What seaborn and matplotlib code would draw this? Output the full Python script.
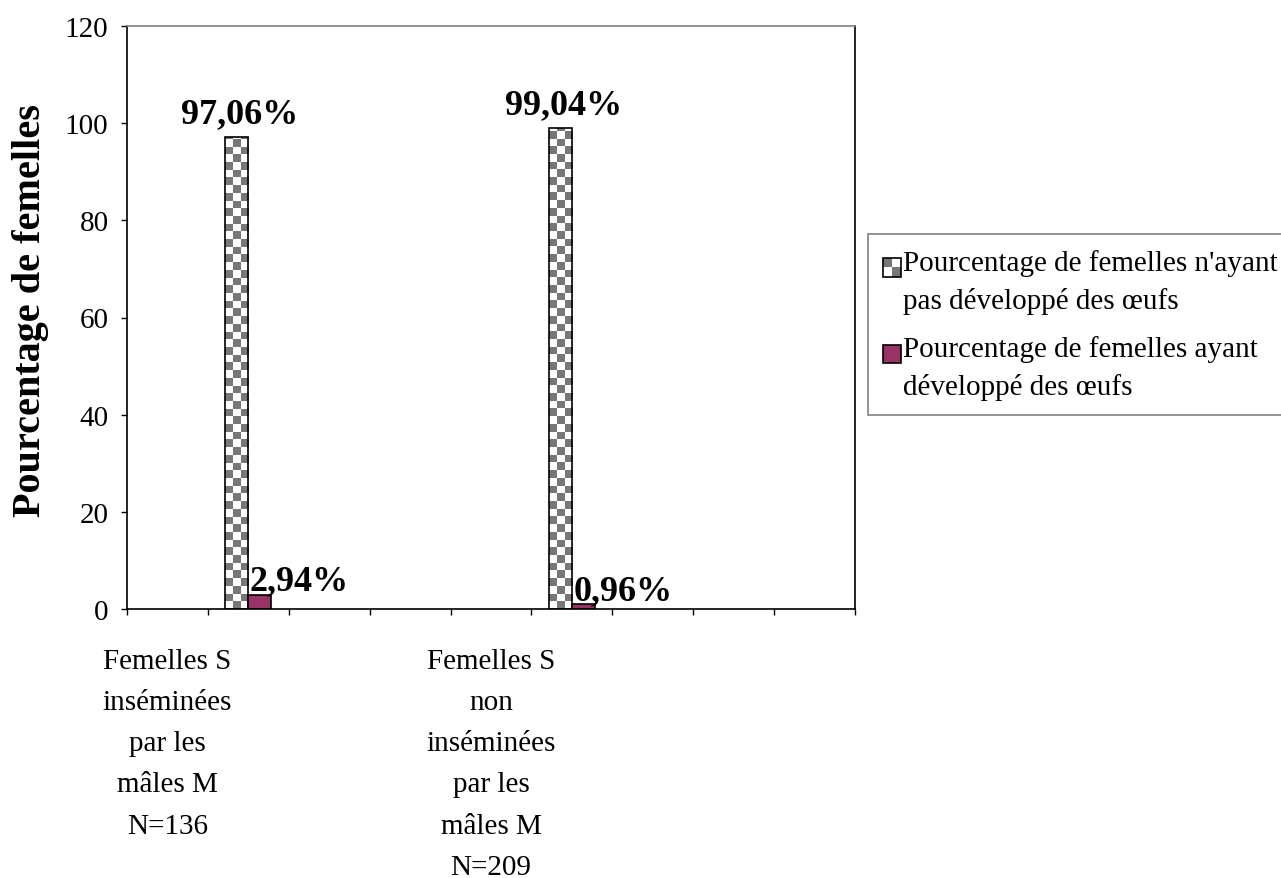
import numpy as np
import pandas as pd
import seaborn as sns
import matplotlib.pyplot as plt
from matplotlib.patches import Rectangle, Patch
from matplotlib.legend_handler import HandlerBase
from matplotlib.colors import ListedColormap

# -------------------------------
# Data
# -------------------------------
groups = ["Femelles S\ninséminées\npar les\nmâles M\nN=136",
          "Femelles S\nnon\ninséminées\npar les\nmâles M\nN=209"]
series = ["Pourcentage de femelles n'ayant\npas développé des œufs",
          "Pourcentage de femelles ayant\ndéveloppé des œufs"]
no_eggs = [97.06, 99.04]
eggs = [2.94, 0.96]
labels_no_eggs = ["97,06%", "99,04%"]
labels_eggs = ["2,94%", "0,96%"]
n_slots = 9            # category slots on the x axis (Excel layout)
bar_slots = [1, 5]     # slots where the bars sit
label_slots = [0, 4]   # slots where the category labels sit
yticks = [0, 20, 40, 60, 80, 100, 120]

slots = [str(i) for i in range(n_slots)]
df = pd.DataFrame({
    "slot": [str(s) for s in bar_slots] * 2,
    "series": [series[0]] * 2 + [series[1]] * 2,
    "value": no_eggs + eggs,
})

# -------------------------------
# Style
# -------------------------------
sns.set_style("white")
plt.rcParams["font.family"] = ["Liberation Serif", "DejaVu Serif"]
plt.rcParams.update({"text.color": "black", "axes.labelcolor": "black",
                     "xtick.color": "black", "ytick.color": "black"})

GRAY = "#777777"
PLUM = "#993366"

fig = plt.figure(figsize=(12.81, 8.79), dpi=100)
ax = fig.add_axes([127 / 1281, 269 / 879, 728 / 1281, 583 / 879])

sns.barplot(data=df, x="slot", y="value", hue="series", order=slots,
            hue_order=series, palette=["white", PLUM], saturation=1,
            width=0.57, gap=0, edgecolor="black", linewidth=1.2,
            legend=False, ax=ax)

# checkerboard fill for the first series
cell_y = 120 * 7.7 / 583
cmap = ListedColormap(["white", GRAY])
for bar in ax.containers[0]:
    x0, w, h = bar.get_x(), bar.get_width(), bar.get_height()
    nrow = int(np.ceil(h / cell_y))
    arr = np.indices((nrow, 3)).sum(axis=0) % 2
    im = ax.imshow(arr, cmap=cmap, extent=[x0, x0 + w, 0, nrow * cell_y],
                   origin="lower", aspect="auto", interpolation="nearest",
                   zorder=bar.get_zorder() - 0.1)
    im.set_clip_path(bar)
    bar.set_facecolor("none")
ax.set_xlim(-0.5, n_slots - 0.5)
ax.set_ylim(0, 120)

# value labels
for bar, txt in zip(ax.containers[0], labels_no_eggs):
    ax.annotate(txt, (bar.get_x() + bar.get_width() / 2, bar.get_height()),
                xytext=(2, 5), textcoords="offset points", ha="center",
                va="bottom", fontsize=26, fontweight="bold")
for bar, txt in zip(ax.containers[1], labels_eggs):
    ax.annotate(txt, (bar.get_x(), bar.get_height()),
                xytext=(1, -2), textcoords="offset points", ha="left",
                va="bottom", fontsize=26, fontweight="bold")

# axes, ticks
ax.set_yticks(yticks)
ax.tick_params(axis="y", direction="out", length=4.3, width=1,
               labelsize=21, pad=9, left=True)
ax.set_xticks(label_slots, groups)
ax.set_xticks(np.arange(-0.5, n_slots, 1), minor=True)
ax.tick_params(axis="x", which="major", length=0, labelsize=21, pad=28)
ax.tick_params(axis="x", which="minor", direction="out", length=4.3,
               width=1, bottom=True)
for t in ax.get_xticklabels():
    t.set_linespacing(1.76)
ax.set_xlabel("")
ax.set_ylabel("Pourcentage de femelles", fontsize=29, fontweight="bold")
ax.yaxis.set_label_coords(-0.107, 0.514)

for side in ["left", "bottom", "right"]:
    ax.spines[side].set_color("black")
    ax.spines[side].set_linewidth(1.2)
ax.spines["top"].set_color("#808080")
ax.spines["top"].set_linewidth(1.2)


# -------------------------------
# Legend with small square keys
# -------------------------------
class SquareHandler(HandlerBase):
    def __init__(self, checker, shift):
        super().__init__()
        self.checker = checker
        self.shift = shift

    def create_artists(self, legend, orig_handle, xdescent, ydescent,
                       width, height, fontsize, trans):
        s = min(width, height)
        x0, y0 = -xdescent, -ydescent + self.shift * fontsize
        arts = [Rectangle((x0, y0), s, s, facecolor=orig_handle.get_facecolor(),
                          edgecolor="none", transform=trans)]
        if self.checker:
            arts.append(Rectangle((x0, y0 + s / 2), s / 2, s / 2,
                                  facecolor=GRAY, edgecolor="none", transform=trans))
            arts.append(Rectangle((x0 + s / 2, y0), s / 2, s / 2,
                                  facecolor=GRAY, edgecolor="none", transform=trans))
        arts.append(Rectangle((x0, y0), s, s, facecolor="none",
                              edgecolor="black", lw=1.2, transform=trans))
        return arts


h1 = Patch(facecolor="white")
h2 = Patch(facecolor=PLUM)
leg = fig.legend(handles=[h1, h2], labels=series, loc="upper left",
                 bbox_to_anchor=(868 / 1281, (879 - 235) / 879),
                 fontsize=21, frameon=True, fancybox=False,
                 edgecolor="#808080", framealpha=1,
                 handler_map={h1: SquareHandler(True, 0.48),
                              h2: SquareHandler(False, 0.48)},
                 handlelength=0.62, handleheight=0.62, handletextpad=0.08,
                 labelspacing=0.71, borderpad=0.5, borderaxespad=0)
leg.get_frame().set_linewidth(1.2)
for t in leg.get_texts():
    t.set_linespacing(1.55)

plt.savefig("out.png", dpi=100)
plt.close()
